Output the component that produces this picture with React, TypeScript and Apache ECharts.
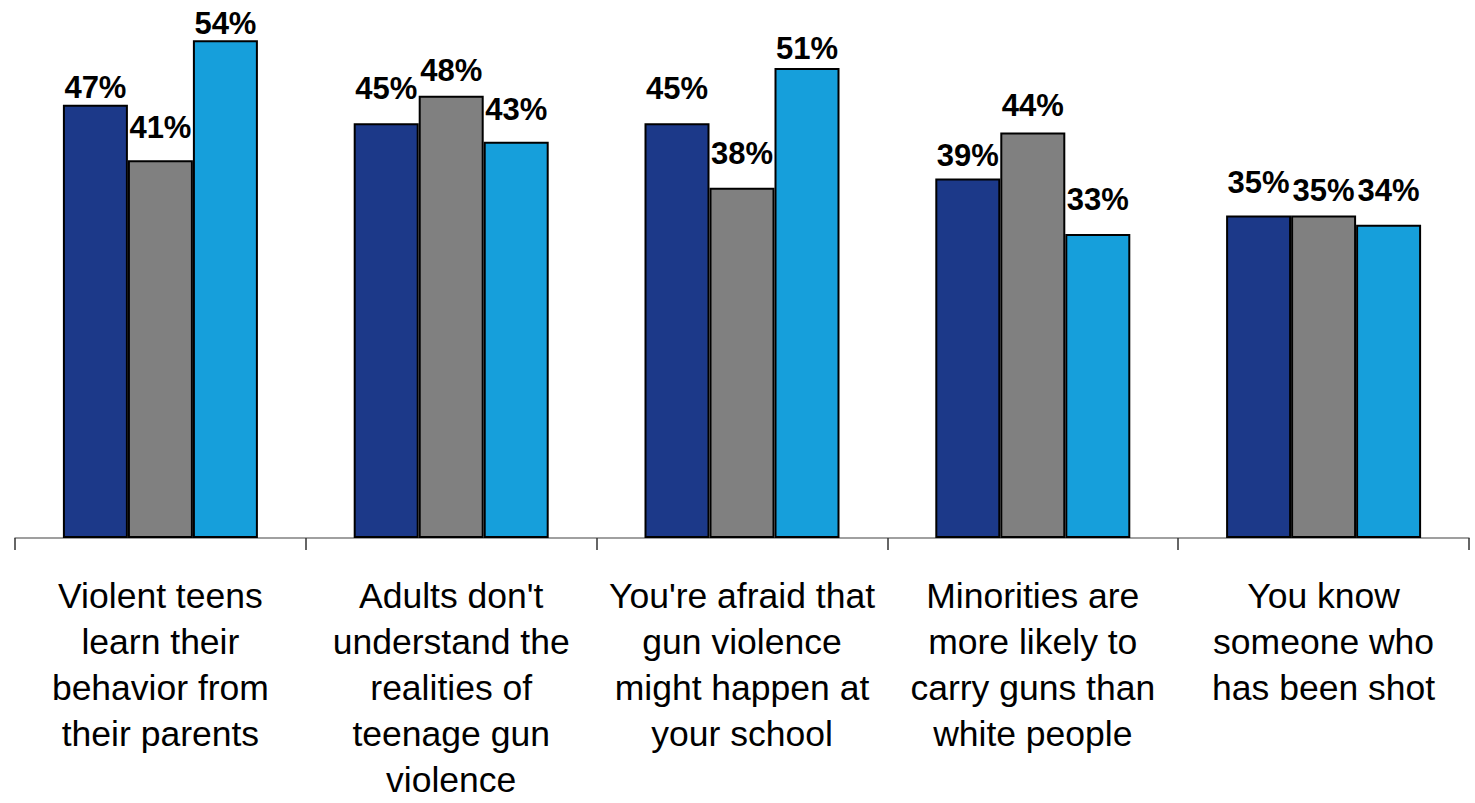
import React, { useEffect, useRef } from "react";
import * as echarts from "echarts";

const categories = [
  "Violent teens\nlearn their\nbehavior from\ntheir parents",
  "Adults don't\nunderstand the\nrealities of\nteenage gun\nviolence",
  "You're afraid that\ngun violence\nmight happen at\nyour school",
  "Minorities are\nmore likely to\ncarry guns than\nwhite people",
  "You know\nsomeone who\nhas been shot",
];

const seriesA = [47, 45, 45, 39, 35];
const seriesB = [41, 48, 38, 44, 35];
const seriesC = [54, 43, 51, 33, 34];

// label distances (style only)
const gapA = [2, 19, 19, 8, 17];
const gapB = [17, 10, 19, 12, 9];
const gapC = [1, 17, 4, 19, 19];

const colors = ["#1C3989", "#808080", "#169FDB"];

export default function App() {
  const ref = useRef<HTMLDivElement>(null);
  useEffect(() => {
    if (!ref.current) return;
    const chart = echarts.init(ref.current, undefined, { renderer: "svg" });
    const mk = (vals: number[], gaps: number[], color: string) => ({
      type: "bar",
      barWidth: 65,
      barGap: "0%",
      itemStyle: { color, borderColor: "#000", borderWidth: 2 },
      label: {
        show: true,
        position: "top",
        formatter: "{c}%",
        color: "#000",
        fontFamily: "Arial, 'Liberation Sans', sans-serif",
        fontWeight: "bold",
        fontSize: 31,
      },
      data: vals.map((v, i) => ({ value: v, label: { distance: gaps[i] } })),
    });
    chart.setOption({
      animation: false,
      grid: { left: 15, right: 6, top: 3.5, bottom: 261, containLabel: false },
      xAxis: {
        type: "category",
        data: categories,
        axisLine: { lineStyle: { color: "#808080", width: 1.5 } },
        axisTick: { show: true, length: 12, lineStyle: { color: "#333", width: 1.5 } },
        axisLabel: {
          interval: 0,
          margin: 35,
          color: "#000",
          fontFamily: "Arial, 'Liberation Sans', sans-serif",
          fontSize: 35.5,
          lineHeight: 46,
          align: "center",
        },
      },
      yAxis: { type: "value", min: 0, max: 58, show: false, splitLine: { show: false } },
      series: [
        mk(seriesA, gapA, colors[0]),
        mk(seriesB, gapB, colors[1]),
        mk(seriesC, gapC, colors[2]),
      ],
    });
    return () => chart.dispose();
  }, []);
  return (
    <div
      ref={ref}
      style={{ position: "absolute", left: 0, top: 0, width: 1475, height: 803, background: "#fff" }}
    />
  );
}
